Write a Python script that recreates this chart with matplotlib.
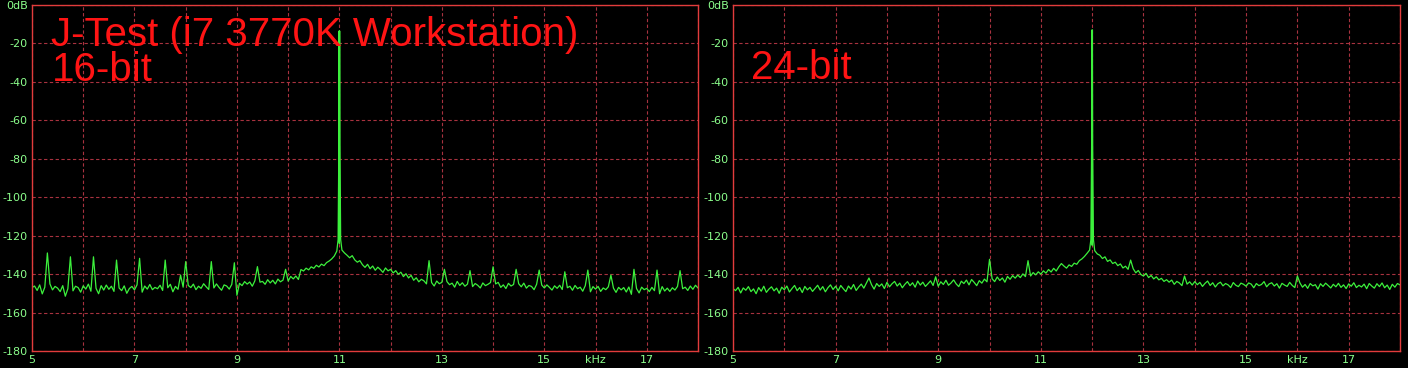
import numpy as np
import matplotlib
matplotlib.use("Agg")
import matplotlib.pyplot as plt

# frequency axis (kHz) of the noise readings, one value every 0.05 kHz from 5 to 18
f_start, f_step = 5.0, 0.05

# ---- 16-bit panel -------------------------------------------------------
noise_16 = [
    -147.0, -146.2, -148.5, -145.6, -150.3, -146.8, -147.9, -145.1, -148.2, -146.4,
    -147.3, -149.1, -146.0, -151.5, -147.6, -145.8, -148.7, -146.3, -147.0, -149.4,
    -146.1, -147.8, -145.2, -148.9, -146.5, -147.4, -150.2, -146.0, -148.3, -145.7,
    -147.9, -146.3, -149.0, -145.9, -147.2, -148.6, -146.1, -150.0, -147.5, -146.4,
    -148.2, -145.6, -147.3, -149.4, -146.2, -147.8, -145.4, -148.1, -146.9, -147.6,
    -145.8, -148.5, -146.7, -147.1, -145.3, -149.2, -146.4, -147.9, -145.5, -146.8,
    -148.3, -145.9, -147.0, -145.2, -148.1, -146.3, -147.4, -145.0, -146.6, -148.0,
    -145.7, -147.2, -145.1, -146.9, -148.4, -145.6, -146.2, -147.8, -145.3, -146.5,
    -151.0, -144.8, -146.0, -143.9, -145.2, -144.1, -146.3, -143.5, -145.0, -144.2,
    -143.8, -145.3, -142.9, -144.6, -143.2, -145.1, -142.6, -144.0, -143.1, -142.4,
    -143.6, -141.2, -142.5, -141.0, -142.8, -137.6, -138.4, -136.9, -137.8, -136.2,
    -137.0, -135.4, -136.3, -134.8, -135.6, -134.0, -133.2, -132.1, -130.6, -128.0,
    -124.0, -127.5, -129.0, -130.2, -131.5, -130.4, -132.6, -133.8, -133.0, -135.1,
    -136.5, -134.9, -137.2, -135.8, -138.0, -136.4, -137.6, -139.1, -136.8, -138.3,
    -137.5, -139.4, -138.2, -140.1, -139.0, -141.3, -139.8, -142.0, -140.6, -143.2,
    -141.9, -144.0, -142.7, -143.5, -145.1, -142.8, -144.4, -146.2, -143.6, -145.0,
    -144.3, -146.1, -143.9, -145.5, -144.7, -146.8, -143.8, -145.9, -144.5, -146.3,
    -145.2, -143.7, -146.5, -144.9, -145.8, -147.2, -144.6, -146.0, -145.3, -144.4,
    -146.7, -145.1, -144.3, -146.9, -145.6, -147.5, -144.8, -146.2, -145.4, -147.0,
    -145.0, -146.6, -144.7, -147.3, -145.9, -146.4, -148.1, -145.3, -146.8, -145.7,
    -147.2, -145.6, -146.9, -148.3, -146.1, -147.4, -145.8, -148.0, -146.5, -147.1,
    -146.3, -148.4, -145.9, -147.6, -146.8, -148.9, -146.0, -147.7, -149.2, -146.5,
    -147.8, -146.4, -149.0, -147.2, -148.1, -146.6, -148.7, -147.3, -149.5, -146.9,
    -148.2, -147.0, -149.3, -146.7, -150.5, -148.4, -147.5, -149.8, -146.8, -148.1,
    -147.4, -149.1, -146.9, -148.6, -147.7, -150.2, -146.5, -148.8, -147.3, -149.0,
    -147.1, -148.3, -146.4, -149.2, -147.6, -146.8, -148.5, -146.2, -147.9, -145.8,
    -147.2,
]
spur_f_16 = [5.29, 5.74, 6.20, 6.67, 7.12, 7.58, 7.88, 8.02, 8.49, 8.95, 9.41, 9.97,
             12.74, 13.07, 13.54, 14.01, 14.47, 14.92, 15.38, 15.83, 16.28, 16.74,
             17.22, 17.67]
spur_db_16 = [-129.0, -131.0, -131.0, -132.7, -131.8, -132.7, -140.5, -133.5, -133.5,
              -134.1, -136.1, -137.5,
              -133.0, -137.5, -138.2, -136.2, -137.5, -137.9, -138.8, -137.9, -140.5,
              -137.5, -137.9, -138.2]
tone_f_16 = [10.975, 10.99, 10.995, 11.005, 11.01, 11.025]
tone_db_16 = [-122.0, -72.0, -13.5, -13.5, -72.0, -122.0]

# ---- 24-bit panel -------------------------------------------------------
noise_24 = [
    -147.5, -148.6, -146.9, -149.8, -147.2, -148.4, -146.5, -149.1, -147.7, -150.2,
    -147.0, -148.9, -146.3, -149.5, -147.8, -146.6, -148.7, -147.3, -150.0, -146.8,
    -148.1, -146.2, -149.3, -147.5, -145.9, -148.6, -147.0, -149.6, -146.4, -148.2,
    -146.9, -149.0, -147.4, -145.8, -148.3, -146.5, -149.2, -147.1, -145.6, -148.0,
    -146.3, -148.7, -145.9, -147.6, -149.1, -146.2, -147.8, -145.4, -148.5, -146.7,
    -145.2, -147.3, -144.6, -146.9, -145.5, -147.8, -144.9, -146.4, -145.1, -147.5,
    -144.3, -146.6, -145.0, -143.8, -146.2, -144.7, -147.1, -145.3, -143.9, -146.0,
    -144.5, -146.8, -143.6, -145.7, -144.2, -146.4, -145.0, -143.5, -145.9, -144.1,
    -146.3, -144.0, -145.4, -143.2, -145.8, -144.6, -143.0, -145.1, -146.5, -143.7,
    -144.9, -143.1, -145.6, -142.8, -144.3, -146.0, -143.4, -144.7, -142.6, -144.0,
    -145.8, -142.4, -143.9, -141.5, -143.3, -142.0, -144.2, -141.2, -142.7, -140.8,
    -142.1, -140.5, -141.8, -139.9, -141.3, -139.6, -141.0, -139.2, -140.4, -138.8,
    -140.0, -138.3, -139.5, -137.6, -138.9, -137.0, -138.4, -136.2, -137.5, -135.8,
    -136.9, -135.2, -136.0, -134.3, -134.9, -133.0, -132.1, -130.8, -129.2, -127.5,
    -125.0, -127.8, -129.5, -130.2, -131.9, -131.0, -133.4, -132.6, -134.5, -133.8,
    -135.6, -134.7, -136.8, -135.9, -137.5, -138.6, -137.2, -139.3, -138.1, -140.2,
    -141.0, -139.6, -141.8, -140.7, -142.5, -141.4, -143.0, -142.2, -143.8, -142.9,
    -144.2, -143.1, -145.3, -143.8, -144.6, -146.0, -143.5, -145.2, -144.0, -145.7,
    -143.9, -145.5, -144.3, -146.4, -144.8, -143.6, -145.9, -144.5, -146.7, -145.0,
    -144.2, -146.1, -144.9, -145.6, -147.0, -144.4, -145.8, -146.5, -144.7, -145.3,
    -146.3, -144.6, -145.2, -147.1, -144.9, -146.0, -145.4, -143.9, -146.6, -145.1,
    -144.5, -146.2, -145.0, -147.3, -144.8, -145.7, -146.4, -144.3, -145.9, -147.0,
    -145.2, -144.6, -146.8, -145.4, -147.4, -144.9, -146.1, -145.5, -147.8, -145.0,
    -146.4, -144.7, -145.9, -147.2, -145.3, -146.6, -144.8, -146.9, -145.6, -147.5,
    -145.1, -146.3, -144.5, -147.0, -145.8, -146.7, -145.2, -147.6, -144.9, -146.2,
    -147.3, -145.0, -146.5, -144.6, -147.1, -145.7, -148.0, -145.3, -146.8, -144.9,
    -145.6,
]
spur_f_24 = [7.63, 8.94, 10.0, 10.75, 11.4, 12.75, 13.81, 15.99]
spur_db_24 = [-142.0, -141.4, -132.3, -133.0, -134.5, -132.7, -141.0, -141.0]
tone_f_24 = [11.975, 11.99, 11.995, 12.005, 12.01, 12.025]
tone_db_24 = [-122.0, -72.0, -13.0, -13.0, -72.0, -122.0]

x_ticks = [5, 6, 7, 8, 9, 10, 11, 12, 13, 14, 15, 16, 17, 18]
x_labels = ["5", "", "7", "", "9", "", "11", "", "13", "", "15", "kHz", "17", ""]
y_ticks = [0, -20, -40, -60, -80, -100, -120, -140, -160, -180]
y_labels = ["0dB", "-20", "-40", "-60", "-80", "-100", "-120", "-140", "-160", "-180"]

BG = "black"
SPINE = "#e23c3c"
GRID = "#a8323f"
LABEL = "#8cff8c"
TRACE = "#3cf03c"
TITLE = "#ff1414"


def build_trace(noise, spur_f, spur_db, tone_f, tone_db):
    f = f_start + f_step * np.arange(len(noise))
    db = np.array(noise, dtype=float)
    for sf, sd in zip(spur_f, spur_db):
        i = int(round((sf - f_start) / f_step))
        db[i] = sd
    f = np.concatenate([f, tone_f])
    db = np.concatenate([db, tone_db])
    order = np.argsort(f, kind="stable")
    return f[order], db[order]


def style_axes(ax):
    ax.set_facecolor(BG)
    ax.set_xlim(5, 18)
    ax.set_ylim(-180, 0)
    ax.set_xticks(x_ticks)
    ax.set_xticklabels(x_labels)
    ax.set_yticks(y_ticks)
    ax.set_yticklabels(y_labels)
    ax.tick_params(length=0, colors=LABEL, labelsize=8, pad=3)
    ax.grid(True, color=GRID, linestyle=(0, (3, 2.2)), linewidth=0.8)
    ax.set_axisbelow(True)
    for s in ax.spines.values():
        s.set_color(SPINE)
        s.set_linewidth(1.0)


fig = plt.figure(figsize=(14.08, 3.68), dpi=100, facecolor=BG)
ax1 = fig.add_axes([32 / 1408, 17 / 368, 666 / 1408, 346 / 368])
ax2 = fig.add_axes([733 / 1408, 17 / 368, 667 / 1408, 346 / 368])

for ax in (ax1, ax2):
    style_axes(ax)

f16, d16 = build_trace(noise_16, spur_f_16, spur_db_16, tone_f_16, tone_db_16)
f24, d24 = build_trace(noise_24, spur_f_24, spur_db_24, tone_f_24, tone_db_24)
ax1.plot(f16, d16, color=TRACE, linewidth=0.9)
ax2.plot(f24, d24, color=TRACE, linewidth=0.9)

title_font = dict(color=TITLE, fontsize=29, family="Liberation Sans", va="baseline")
ax1.text(0.029, 0.882, "J-Test (i7 3770K Workstation)", transform=ax1.transAxes, **title_font)
ax1.text(0.030, 0.780, "16-bit", transform=ax1.transAxes, **title_font)
ax2.text(0.027, 0.785, "24-bit", transform=ax2.transAxes, **title_font)

fig.savefig("out.png", dpi=100, facecolor=BG)
